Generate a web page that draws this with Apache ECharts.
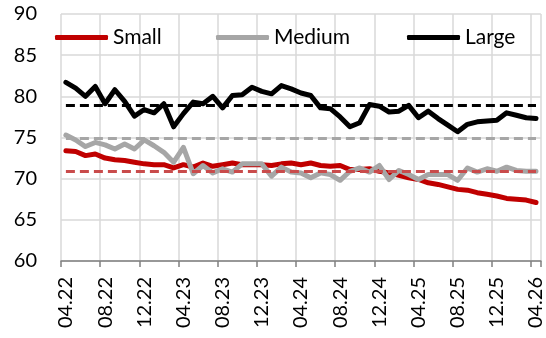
<!DOCTYPE html>
<html>
<head>
<meta charset="utf-8">
<script src="https://cdn.jsdelivr.net/npm/echarts@6/dist/echarts.min.js"></script>
<style>
  html, body { margin: 0; padding: 0; background: #fff; }
  #chart { width: 546px; height: 338px; }
</style>
</head>
<body>
<div id="chart"></div>
<script>
const months = [
  '04.22', '05.22', '06.22', '07.22', '08.22', '09.22', '10.22', '11.22', '12.22', '01.23', '02.23', '03.23',
  '04.23', '05.23', '06.23', '07.23', '08.23', '09.23', '10.23', '11.23', '12.23', '01.24', '02.24', '03.24',
  '04.24', '05.24', '06.24', '07.24', '08.24', '09.24', '10.24', '11.24', '12.24', '01.25', '02.25', '03.25',
  '04.25', '05.25', '06.25', '07.25', '08.25', '09.25', '10.25', '11.25', '12.25', '01.26', '02.26', '03.26',
  '04.26'
];

const small = [
  73.4, 73.3, 72.8, 73.0, 72.5, 72.3, 72.2, 72.0, 71.8, 71.7, 71.7, 71.3,
  71.7, 71.4, 71.9, 71.5, 71.7, 71.9, 71.7, 71.7, 71.7, 71.6, 71.8, 71.9,
  71.7, 71.9, 71.6, 71.5, 71.6, 71.1, 71.1, 71.2, 70.9, 70.7, 70.4, 70.1,
  69.9, 69.5, 69.3, 69.0, 68.7, 68.6, 68.3, 68.1, 67.9, 67.6, 67.5, 67.4,
  67.1
];

const medium = [
  75.3, 74.7, 73.9, 74.4, 74.1, 73.6, 74.2, 73.6, 74.7, 74.0, 73.2, 72.0,
  73.8, 70.6, 71.6, 70.7, 71.2, 70.8, 71.8, 71.8, 71.8, 70.3, 71.4, 70.8,
  70.7, 70.1, 70.7, 70.5, 69.8, 70.9, 71.3, 70.8, 71.6, 69.9, 71.0, 70.5,
  69.9, 70.5, 70.5, 70.5, 69.8, 71.3, 70.8, 71.2, 70.9, 71.4, 71.0, 70.9,
  70.9
];

const large = [
  81.7, 81.0, 80.0, 81.2, 79.1, 80.8, 79.4, 77.6, 78.4, 78.0, 79.1, 76.3,
  77.9, 79.3, 79.1, 80.0, 78.6, 80.1, 80.2, 81.1, 80.6, 80.3, 81.3, 80.9,
  80.4, 80.1, 78.6, 78.5, 77.5, 76.3, 76.8, 79.0, 78.8, 78.1, 78.2, 78.9,
  77.4, 78.2, 77.3, 76.5, 75.7, 76.6, 76.9, 77.0, 77.1, 78.0, 77.7, 77.4,
  77.3
];

// long-run reference levels (dashed)
const refSmall = 70.9;
const refMedium = 74.9;
const refLarge = 78.9;

const FONT = 'Lato';

const chart = echarts.init(document.getElementById('chart'), null, { renderer: 'canvas' });

function solid(name, data, color) {
  return {
    name: name,
    type: 'line',
    data: data,
    symbol: 'none',
    z: 3,
    color: color,
    lineStyle: { color: color, width: 5, cap: 'round', join: 'round' },
    emphasis: { disabled: true }
  };
}

// dashed level drawn from first to last month, under the solid lines
function level(name, value, color) {
  return {
    name: name,
    type: 'line',
    data: [],
    z: 2,
    silent: true,
    markLine: {
      silent: true,
      symbol: 'none',
      label: { show: false },
      lineStyle: { color: color, width: 3, type: [9, 5] },
      data: [[
        { coord: [months[0], value] },
        { coord: [months[months.length - 1], value] }
      ]]
    }
  };
}

function legendAt(name, left) {
  return {
    data: [name],
    left: left,
    top: 27,
    padding: 0,
    icon: 'roundRect',
    itemWidth: 53,
    itemHeight: 5,
    selectedMode: false,
    textStyle: { fontFamily: FONT, fontSize: 21, color: '#000', lineHeight: 21 }
  };
}

const option = {
  animation: false,
  backgroundColor: '#fff',
  grid: { left: 61, right: 5, top: 14, bottom: 77, containLabel: false },
  legend: [
    legendAt('Small', 55),
    legendAt('Medium', 216),
    legendAt('Large', 407)
  ],
  xAxis: {
    type: 'category',
    data: months,
    boundaryGap: true,
    axisLine: { lineStyle: { color: '#808080', width: 1.5 } },
    axisTick: { show: true, interval: 3, length: 6, lineStyle: { color: '#808080', width: 1.5 } },
    axisLabel: {
      interval: 3,
      rotate: 90,
      margin: 16,
      fontFamily: FONT,
      fontSize: 20,
      color: '#000'
    },
    splitLine: { show: true, interval: 3, lineStyle: { color: '#d9d9d9', width: 1.5 } }
  },
  yAxis: {
    type: 'value',
    min: 60,
    max: 90,
    interval: 5,
    axisLine: { show: false },
    axisTick: { show: false },
    axisLabel: { margin: 24, fontFamily: FONT, fontSize: 20, color: '#000' },
    splitLine: { lineStyle: { color: '#d9d9d9', width: 1.5 } }
  },
  series: [
    level('refSmall', refSmall, '#c94b4b'),
    level('refMedium', refMedium, '#a6a6a6'),
    level('refLarge', refLarge, '#000000'),
    solid('Small', small, '#c00000'),
    solid('Medium', medium, '#a6a6a6'),
    solid('Large', large, '#000000')
  ]
};

chart.setOption(option);
</script>
</body>
</html>
